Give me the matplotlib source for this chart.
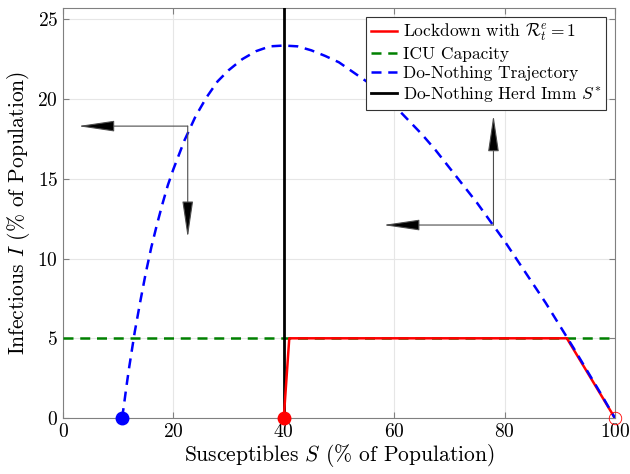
import numpy as np
import matplotlib
matplotlib.use("Agg")
import matplotlib.pyplot as plt

# --- Data ---
# do-nothing SIR trajectory, S and I in % of population
s_traj = [10.7, 11, 11.5, 12, 13, 14, 15, 16, 17, 18, 19, 20, 22, 24, 26, 28, 30,
          32.5, 35, 37.5, 40, 42.5, 45, 47.5, 50, 52.5, 55, 57.5, 60, 62.5, 65,
          67.5, 70, 72.5, 75, 77.5, 80, 82.5, 85, 87.5, 90, 92.5, 95, 97.5, 100]
i_traj = [0.0, 0.7, 2.0, 3.2, 5.4, 7.3, 9.1, 10.7, 12.1, 13.4, 14.6, 15.6, 17.4,
          18.9, 20.1, 21.1, 21.8, 22.5, 23.0, 23.3, 23.35, 23.3, 23.05, 22.7,
          22.3, 21.7, 21.1, 20.4, 19.6, 18.7, 17.8, 16.8, 15.7, 14.6, 13.5, 12.3,
          11.1, 9.8, 8.5, 7.2, 5.8, 4.4, 2.95, 1.5, 0.0]

# lockdown path with R_t^e = 1
s_lock = [100, 91.3, 41, 40]
i_lock = [0, 5, 5, 0]

icu_cap = 5
herd_s = 40
s_final = 10.7

# direction arrows: (origin S, origin I, left tip S, vertical tip I)
arrows = [(22.6, 18.3, 2.7, 11.3),
          (78.0, 12.1, 58.0, 19.0)]

plt.rcParams["font.family"] = "serif"
plt.rcParams["font.serif"] = ["cmr10"]
plt.rcParams["mathtext.fontset"] = "cm"
plt.rcParams["axes.formatter.use_mathtext"] = True

fig = plt.figure(figsize=(6.3, 4.74), dpi=100)
ax = fig.add_axes([0.1, 0.118, 0.876, 0.865])

dash = (0, (4, 2.7))
ax.plot(s_lock, i_lock, color="red", lw=1.8, label=r"Lockdown with $\mathcal{R}_t^e = 1$", zorder=4)
ax.axhline(icu_cap, color="green", lw=1.8, ls=dash, label="ICU Capacity", zorder=3)
ax.plot(s_traj, i_traj, color="blue", lw=1.8, ls=dash, label="Do-Nothing Trajectory", zorder=5)
ax.axvline(herd_s, color="black", lw=2, label=r"Do-Nothing Herd Imm $S^{*}$", zorder=3)

ax.plot([s_final], [0], "o", color="blue", ms=9, zorder=6, clip_on=False)
ax.plot([herd_s], [0], "o", color="red", ms=9, zorder=6, clip_on=False)
ax.plot([100], [0], "o", mfc="none", mec="red", mew=0.6, ms=9, zorder=6, clip_on=False)

for s0, i0, s_tip, i_tip in arrows:
    for tip in [(s_tip, i0), (s0, i_tip)]:
        ax.annotate("", xy=tip, xytext=(s0, i0),
                    arrowprops=dict(arrowstyle="-|>,head_length=2.3,head_width=0.34",
                                    mutation_scale=10, fc="black", ec="0.3", lw=0.8,
                                    shrinkA=0, shrinkB=0), zorder=7)

ax.set_xlim(0, 100)
ax.set_ylim(0, 25.7)
ax.set_xticks([0, 20, 40, 60, 80, 100])
ax.set_yticks([0, 5, 10, 15, 20, 25])
ax.tick_params(direction="in", labelsize=14, color="0.5", length=4, top=True, right=True)
ax.grid(True, color="0.9", lw=0.8)
ax.set_axisbelow(True)
for sp in ax.spines.values():
    sp.set_color("0.5")

ax.set_xlabel(r"Susceptibles $S$ (% of Population)", fontsize=15.5, labelpad=1)
ax.set_ylabel(r"Infectious $I$ (% of Population)", fontsize=15.5, labelpad=4)

leg = ax.legend(loc="upper right", fontsize=12.5, fancybox=False, framealpha=1,
                edgecolor="0.2", handlelength=1.5, handletextpad=0.3,
                borderpad=0.3, labelspacing=0.2, borderaxespad=0.5)
leg.get_frame().set_linewidth(0.8)

fig.savefig("out.png", dpi=100)
